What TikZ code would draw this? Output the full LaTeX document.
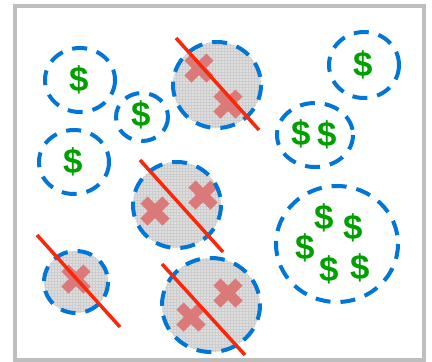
\documentclass[tikz,border=0pt]{standalone}
\usepackage{fontspec}
\setmainfont{Liberation Sans}
\usetikzlibrary{patterns}
\definecolor{frameg}{RGB}{190,190,190}
\definecolor{dblue}{RGB}{0,118,214}
\definecolor{dgreen}{RGB}{0,160,0}
\definecolor{cutred}{RGB}{250,40,10}
\definecolor{xpink}{RGB}{220,112,112}
\definecolor{bgray}{RGB}{222,222,222}
\definecolor{gridg}{RGB}{205,205,205}
\tikzset{
  dcirc/.style={draw=dblue, line width=4bp, dash pattern=on 15bp off 10bp},
  dollar/.style={inner sep=0pt, text=dgreen, font=\bfseries\fontsize{35}{35}\selectfont},
  cut/.style={draw=cutred, line width=3.5bp},
  xm/.style={draw=xpink, line width=10bp, opacity=0.9},
  pics/xmark/.style={code={\draw[xm] (-11,-11)--(11,11) (-11,11)--(11,-11);}},
}
\begin{document}
\begin{tikzpicture}[x=1bp,y=-1bp]
\useasboundingbox (0,0) rectangle (432,362);
\fill[white] (0,0) rectangle (432,362);
\draw[frameg, line width=4bp] (15,6) rectangle (424,360);

% good circles
\draw[dcirc] (80,80) ellipse [x radius=35, y radius=32];
\node[dollar] (d1) at (79,80) {\$};
\draw[dcirc] (142,117) ellipse [x radius=26, y radius=24];
\node[dollar] (d2) at (141,115) {\$};
\draw[dcirc] (74,162) ellipse [x radius=35, y radius=32];
\node[dollar] (d3) at (73,162) {\$};
\draw[dcirc] (364,65) ellipse [x radius=35, y radius=33];
\node[dollar] (d4) at (363,65) {\$};
\draw[dcirc] (315,135) ellipse [x radius=38, y radius=32];
\node[dollar] (d5) at (301,134) {\$};
\node[dollar] (d6) at (327,135) {\$};
\draw[dcirc] (337,244) ellipse [x radius=61, y radius=58];
\node[dollar] (d7) at (324,218) {\$};
\node[dollar] (d8) at (353,228) {\$};
\node[dollar] (d9) at (305,248) {\$};
\node[dollar] (d10) at (329,270) {\$};
\node[dollar] (d11) at (360,268) {\$};

% bad circles
\foreach \cx/\cy/\rx/\ry in {217/85/44/43, 177/205/44/43, 76/282/32/31, 211/305/49/47}{
  \fill[bgray] (\cx,\cy) ellipse [x radius=\rx, y radius=\ry];
  \fill[pattern=grid, pattern color=gridg] (\cx,\cy) ellipse [x radius=\rx, y radius=\ry];
}
\pic at (199,68) {xmark};
\pic at (228,104) {xmark};
\pic at (155,211) {xmark};
\pic at (203,195) {xmark};
\pic at (76,279) {xmark};
\pic at (191,317) {xmark};
\pic at (228,293) {xmark};
\foreach \cx/\cy/\rx/\ry in {217/85/44/43, 177/205/44/43, 76/282/32/31, 211/305/49/47}{
  \draw[dcirc] (\cx,\cy) ellipse [x radius=\rx, y radius=\ry];
}

% cut lines
\coordinate (a1) at (176,38); \coordinate (b1) at (259,130);
\coordinate (a2) at (140,160); \coordinate (b2) at (223,252);
\coordinate (a3) at (37,235); \coordinate (b3) at (120,327);
\coordinate (a4) at (162,264); \coordinate (b4) at (245,355);
\draw[cut] (a1) -- (b1);
\draw[cut] (a2) -- (b2);
\draw[cut] (a3) -- (b3);
\draw[cut] (a4) -- (b4);
\end{tikzpicture}
\end{document}
